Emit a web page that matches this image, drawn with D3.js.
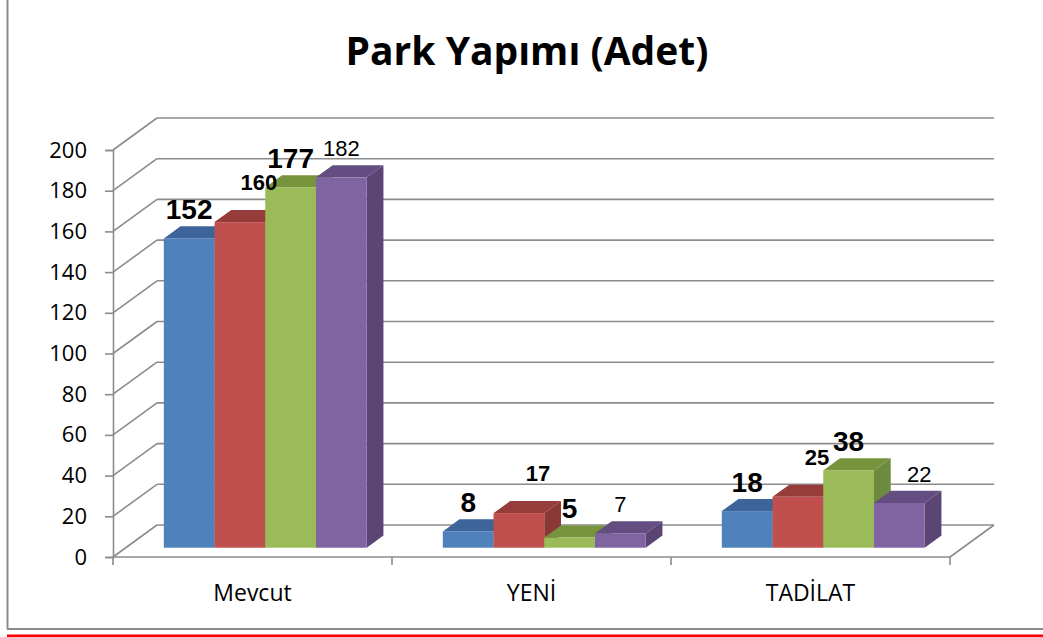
<!DOCTYPE html>
<html>
<head>
<meta charset="utf-8">
<script src="https://cdn.jsdelivr.net/npm/d3@7"></script>
<style>
  body { margin: 0; background: #fff; }
  svg { display: block; }
  .tick-label { font-family: "Open Sans", sans-serif; font-size: 22px; fill: #000; }
  .cat-label { font-family: "Open Sans", sans-serif; font-size: 23px; fill: #000; }
  .title { font-family: "Open Sans", sans-serif; font-weight: bold; font-size: 39px; fill: #000; }
  .data-label { font-family: "Liberation Sans", Arial, sans-serif; fill: #000; }
</style>
</head>
<body>
<div id="chart"></div>
<script>
var svgWidth = 1043;
var svgHeight = 637;

// chart data
var categories = ["Mevcut", "YENİ", "TADİLAT"];
var seriesNames = ["s1", "s2", "s3", "s4"];
var series1 = [152, 8, 18];
var series2 = [160, 17, 25];
var series3 = [177, 5, 38];
var series4 = [182, 7, 22];
var yTicks = [0, 20, 40, 60, 80, 100, 120, 140, 160, 180, 200];

var allSeries = [series1, series2, series3, series4];

// colours: front, top, side
var frontColors = ["#4f81bd", "#c0504d", "#9bbb59", "#8064a2"];
var topColors = ["#3d659a", "#963d3b", "#77933c", "#634d81"];
var sideColors = ["#385d8a", "#8a3835", "#6e8a3e", "#5a4575"];

// label styles per series
var labelWeight = ["bold", "bold", "bold", "normal"];
var labelSize = [28, 22, 28, 22];
var labelDx = [0, 19, 0, 0];
var labelDy = [-7, -20, -7, -9];

// 3d depth of the plot box
var DX = 44, DY = -32;
var z0 = 0.29, z1 = 0.67;

var svg = d3.select("#chart")
    .append("svg")
    .attr("width", svgWidth)
    .attr("height", svgHeight);

// outer frame
svg.append("line")
    .attr("x1", 7.5).attr("y1", 0).attr("x2", 7.5).attr("y2", 629)
    .attr("stroke", "#8c8c8c").attr("stroke-width", 2);
svg.append("line")
    .attr("x1", 7).attr("y1", 629).attr("x2", svgWidth).attr("y2", 629)
    .attr("stroke", "#8c8c8c").attr("stroke-width", 2);
svg.append("line")
    .attr("x1", 7).attr("y1", 636).attr("x2", svgWidth).attr("y2", 636)
    .attr("stroke", "#ff0000").attr("stroke-width", 3);

svg.append("text")
    .attr("class", "title")
    .attr("x", 527)
    .attr("y", 65)
    .attr("text-anchor", "middle")
    .text("Park Yapımı (Adet)");

var x0 = d3.scaleBand()
    .domain(categories)
    .range([113, 950]);

var x1 = d3.scaleBand()
    .domain(seriesNames)
    .range([0, x0.bandwidth()])
    .paddingInner(0)
    .paddingOuter(0.75);

var y = d3.scaleLinear()
    .domain([0, 200])
    .range([557, 150]);

var gridColor = "#8c8c8c";
var grid = svg.append("g");

// back wall gridlines and side wall diagonals
yTicks.forEach(function(t) {
    grid.append("line")
        .attr("x1", 113).attr("y1", y(t))
        .attr("x2", 113 + DX).attr("y2", y(t) + DY)
        .attr("stroke", gridColor).attr("stroke-width", 1.6);
    grid.append("line")
        .attr("x1", 113 + DX).attr("y1", y(t) + DY)
        .attr("x2", 950 + DX).attr("y2", y(t) + DY)
        .attr("stroke", gridColor).attr("stroke-width", 1.6);
});

// floor edge on the right
grid.append("line")
    .attr("x1", 950).attr("y1", y(0))
    .attr("x2", 950 + DX).attr("y2", y(0) + DY)
    .attr("stroke", gridColor).attr("stroke-width", 1.6);

// axes on the front plane
var leftAxis = d3.axisLeft(y).tickValues(yTicks).tickSize(8).tickPadding(18);
var yAxis = svg.append("g")
    .attr("transform", "translate(113,0)")
    .call(leftAxis);
yAxis.attr("font-size", null).attr("font-family", null);
yAxis.select(".domain").attr("stroke", gridColor).attr("stroke-width", 1.6);
yAxis.selectAll(".tick line").attr("stroke", gridColor).attr("stroke-width", 1.6);
yAxis.selectAll(".tick text").attr("class", "tick-label");

var xAxisLine = svg.append("g");
xAxisLine.append("line")
    .attr("x1", 113).attr("y1", y(0)).attr("x2", 950).attr("y2", y(0))
    .attr("stroke", gridColor).attr("stroke-width", 1.6);
d3.range(categories.length + 1).forEach(function(i) {
    var xx = 113 + i * x0.bandwidth();
    xAxisLine.append("line")
        .attr("x1", xx).attr("y1", y(0)).attr("x2", xx).attr("y2", y(0) + 8)
        .attr("stroke", gridColor).attr("stroke-width", 1.6);
});

svg.selectAll(".cat-label")
    .data(categories)
    .enter()
    .append("text")
    .attr("class", "cat-label")
    .attr("x", d => x0(d) + x0.bandwidth() / 2)
    .attr("y", 601)
    .attr("text-anchor", "middle")
    .text(d => d);

// bars
var bars = svg.append("g");
var labels = svg.append("g");
var ddx = (z1 - z0) * DX, ddy = (z1 - z0) * DY;

categories.forEach(function(cat, ci) {
    allSeries.forEach(function(vals, si) {
        var v = vals[ci];
        var xl = x0(cat) + x1(seriesNames[si]) + z0 * DX;
        var xr = xl + x1.bandwidth();
        var top = y(v) + z0 * DY;
        var base = y(0) + z0 * DY;

        bars.append("polygon")
            .attr("points", [[xr, top], [xr + ddx, top + ddy], [xr + ddx, base + ddy], [xr, base]].join(" "))
            .attr("fill", sideColors[si]);
        bars.append("polygon")
            .attr("points", [[xl, top], [xr, top], [xr + ddx, top + ddy], [xl + ddx, top + ddy]].join(" "))
            .attr("fill", topColors[si]);
        bars.append("rect")
            .attr("x", xl).attr("y", top)
            .attr("width", xr - xl).attr("height", base - top)
            .attr("fill", frontColors[si]);

        // last series label is pushed right when the previous bar is taller
        var nudge = (si === 3 && allSeries[2][ci] > v && v > allSeries[0][ci]) ? 20 : 0;

        labels.append("text")
            .attr("class", "data-label")
            .attr("x", (xl + xr) / 2 + labelDx[si] + nudge)
            .attr("y", top + ddy + labelDy[si])
            .attr("text-anchor", "middle")
            .attr("font-weight", labelWeight[si])
            .attr("font-size", labelSize[si])
            .text(v);
    });
});
</script>
</body>
</html>
